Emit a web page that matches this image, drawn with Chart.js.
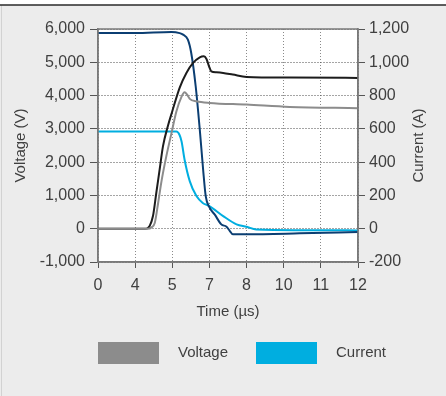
<!DOCTYPE html>
<html>
<head>
<meta charset="utf-8">
<script src="https://cdn.jsdelivr.net/npm/chart.js@4"></script>
<style>
  html, body { margin: 0; padding: 0; background: #ffffff; }
  #wrap { width: 446px; height: 396px; }
</style>
</head>
<body>
<div id="wrap"><canvas id="c" width="446" height="396"></canvas></div>
<script>
// ---- tick labels of the time axis (evenly spaced in the original) ----
const timeTicks = [0, 4, 5, 7, 8, 10, 11, 12];
const voltageTicks = [-1000, 0, 1000, 2000, 3000, 4000, 5000, 6000];
const currentTicks = [-200, 0, 200, 400, 600, 800, 1000, 1200];

// ---- Voltage, dark trace ----
const timeVoltA = [0, 4.26, 4.34, 4.39, 4.48, 4.57, 4.66, 4.75, 4.88, 5.0, 5.4, 5.76, 6.12, 6.48, 6.7, 6.84, 6.98, 7.05, 7.19, 7.37, 7.63, 8, 10.16, 12];
const voltA = [0, 0, 20, 80, 380, 1080, 1780, 2480, 3080, 3530, 4240, 4680, 4980, 5150, 5180, 5100, 4880, 4730, 4700, 4680, 4630, 4560, 4540, 4530];

// ---- Voltage, grey trace ----
const timeVoltB = [0, 4.34, 4.44, 4.53, 4.62, 4.71, 4.84, 4.98, 5.22, 5.5, 5.66, 5.8, 5.94, 6.3, 7, 8, 10.16, 12];
const voltB = [0, 0, 40, 180, 780, 1430, 2180, 2880, 3520, 3970, 4100, 4030, 3900, 3830, 3780, 3730, 3660, 3620];

// ---- Current, dark blue trace ----
const timeCurrA = [0, 4.0, 4.98, 5.4, 5.58, 5.84, 6.02, 6.26, 6.48, 6.66, 6.8, 7.0, 7.14, 7.32, 7.46, 7.55, 7.63, 8.0, 10.43, 12];
const currA = [1176, 1176, 1182, 1175, 1166, 1136, 1056, 856, 596, 356, 196, 128, 86, 26, 12, -14, -34, -34, -28, -19];

// ---- Current, light blue trace ----
const timeCurrB = [0, 5.22, 5.38, 5.5, 5.66, 5.94, 6.3, 6.64, 7.0, 7.37, 7.73, 8.0, 8.52, 12];
const currB = [584, 584, 566, 524, 416, 286, 196, 155, 136, 76, 26, 12, -4, -10];

const legendItems = ['Voltage', 'Current'];

// map a time value onto the evenly spaced tick index axis
function toAxis(t) {
  for (let i = 0; i < timeTicks.length - 1; i++) {
    const a = timeTicks[i], b = timeTicks[i + 1];
    if (t <= b) return i + (t - a) / (b - a);
  }
  return timeTicks.length - 1;
}
function pts(ts, vs) { return ts.map((t, i) => ({ x: toAxis(t), y: vs[i] })); }

const FONT = '"Liberation Sans", Arial, Helvetica, sans-serif';
const TXT = '#404040';
const fmt = v => Number(v).toLocaleString('en-US');

const COL_GREY = '#8c8c8c', COL_BLACK = '#1c1c1c', COL_CYAN = '#00aee0', COL_NAVY = '#0b3e72';

const decor = {
  id: 'decor',
  beforeDraw(chart) {
    const { ctx, width, height, chartArea: a } = chart;
    ctx.save();
    ctx.fillStyle = '#ffffff';
    ctx.fillRect(0, 0, width, height);
    ctx.fillStyle = '#ececec';
    ctx.fillRect(0, 5, width, height - 5);
    ctx.strokeStyle = '#d2d2d2';
    ctx.lineWidth = 1;
    ctx.beginPath(); ctx.moveTo(1.5, 5); ctx.lineTo(1.5, height); ctx.stroke();
    ctx.strokeStyle = '#2a2a2a';
    ctx.lineWidth = 1.5;
    ctx.beginPath(); ctx.moveTo(0, 5); ctx.lineTo(width, 5); ctx.stroke();
    ctx.fillStyle = '#ffffff';
    ctx.fillRect(a.left, a.top, a.right - a.left, a.bottom - a.top);
    ctx.restore();
  },
  afterDraw(chart) {
    const { ctx, chartArea: a } = chart;
    ctx.save();
    // frame
    ctx.strokeStyle = '#7a7a7a';
    ctx.lineWidth = 1.5;
    ctx.strokeRect(a.left, a.top, a.right - a.left, a.bottom - a.top);
    // right axis title, reading bottom to top
    ctx.fillStyle = TXT;
    ctx.font = '15px ' + FONT;
    ctx.textAlign = 'center';
    ctx.textBaseline = 'middle';
    ctx.translate(a.right + 61, (a.top + a.bottom) / 2);
    ctx.rotate(-Math.PI / 2);
    ctx.fillText(chart.options.scales.yI.title.text, 0, 0);
    ctx.restore();
    // legend
    ctx.save();
    const colors = [COL_GREY, COL_CYAN];
    const y0 = a.bottom + 80;
    const starts = [a.left, a.left + 158];
    ctx.font = '15px ' + FONT;
    ctx.textBaseline = 'middle';
    ctx.textAlign = 'left';
    legendItems.forEach((lab, i) => {
      ctx.fillStyle = colors[i];
      ctx.fillRect(starts[i], y0, 61, 22);
      ctx.fillStyle = TXT;
      ctx.fillText(lab, starts[i] + 80, y0 + 11);
    });
    ctx.restore();
  }
};

const lineDs = (label, data, color, axis, order) => ({
  label, data, borderColor: color, backgroundColor: color, yAxisID: axis,
  borderWidth: 2, pointRadius: 0, cubicInterpolationMode: 'monotone', order, fill: false
});

new Chart(document.getElementById('c'), {
  type: 'line',
  data: {
    datasets: [
      lineDs('Voltage', pts(timeVoltB, voltB), COL_GREY, 'yV', 0),
      lineDs('Voltage 2', pts(timeVoltA, voltA), COL_BLACK, 'yV', 1),
      lineDs('Current', pts(timeCurrB, currB), COL_CYAN, 'yI', 3),
      lineDs('Current 2', pts(timeCurrA, currA), COL_NAVY, 'yI', 2)
    ]
  },
  options: {
    responsive: false,
    animation: false,
    events: [],
    layout: { padding: { left: 0, right: 0, top: 29, bottom: 78 } },
    plugins: { legend: { display: false }, tooltip: { enabled: false } },
    scales: {
      x: {
        type: 'linear', min: 0, max: timeTicks.length - 1,
        afterFit(s) { s.height = 56; },
        afterBuildTicks(s) { s.ticks = timeTicks.map((t, i) => ({ value: i })); },
        ticks: { callback: v => String(timeTicks[v]), color: TXT, font: { family: FONT, size: 16 }, padding: 8, maxRotation: 0, autoSkip: false },
        grid: { color: '#8a8a8a', tickColor: '#555', tickLength: 6, lineWidth: 1 },
        border: { color: '#7a7a7a', width: 1.5, dash: [1, 2] },
        title: { display: true, text: 'Time (µs)', color: TXT, font: { family: FONT, size: 15 }, padding: { top: 0, bottom: -3 } }
      },
      yV: {
        type: 'linear', position: 'left',
        min: voltageTicks[0], max: voltageTicks[voltageTicks.length - 1],
        afterFit(s) { s.width = 98; },
        afterBuildTicks(s) { s.ticks = voltageTicks.map(v => ({ value: v })); },
        ticks: { callback: v => fmt(v), color: TXT, font: { family: FONT, size: 16 }, padding: 5 },
        grid: { color: '#4a4a4a', tickColor: '#555', tickLength: 8, lineWidth: 1 },
        border: { color: '#7a7a7a', width: 1.5, dash: [1, 2] },
        title: { display: true, text: 'Voltage (V)', color: TXT, font: { family: FONT, size: 15 }, padding: { top: 12, bottom: 0 } }
      },
      yI: {
        type: 'linear', position: 'right',
        min: currentTicks[0], max: currentTicks[currentTicks.length - 1],
        afterFit(s) { s.width = 88; },
        afterBuildTicks(s) { s.ticks = currentTicks.map(v => ({ value: v })); },
        ticks: { callback: v => fmt(v), color: TXT, font: { family: FONT, size: 16 }, padding: 4 },
        grid: { drawOnChartArea: false, color: '#555', tickColor: '#555', tickLength: 7 },
        border: { color: '#7a7a7a', width: 1.5 },
        title: { display: false, text: 'Current (A)' }
      }
    }
  },
  plugins: [decor]
});
</script>
</body>
</html>
